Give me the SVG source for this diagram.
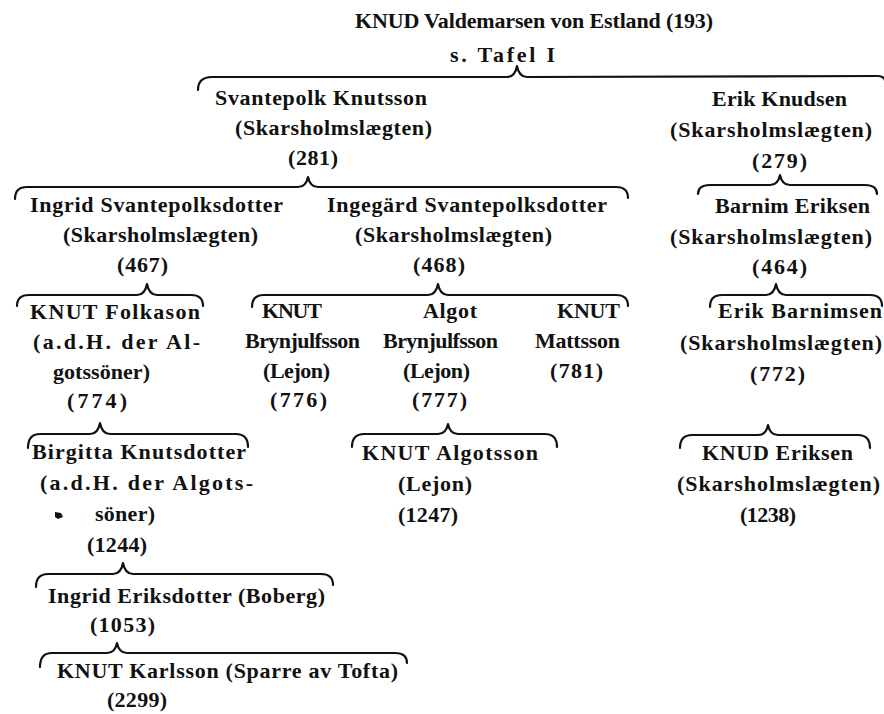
<svg xmlns="http://www.w3.org/2000/svg" width="884" height="714" viewBox="0 0 884 714">
<style>
text{font-family:"Liberation Serif","Times New Roman",serif;font-weight:bold;font-size:22px;fill:#111}
.br{fill:none;stroke:#111;stroke-width:2.2;stroke-linecap:round;stroke-linejoin:round}
</style>
<rect width="884" height="714" fill="#fff"/>
<g id="connectors">
<path class="br" d="M198,90 Q198,77 212,77 L507,77 Q515,77 517,66 Q519,77 527,77 L878,76 Q886,76 886,86"/>
<path class="br" d="M15,199 Q15,187 27,187 L298,187 Q306,187 308,177 Q310,187 318,187 L616,187 Q628,187 628,198"/>
<path class="br" d="M698,194 Q698,185 710,185 L770,185 Q778,185 780,175 Q782,185 790,185 L865,185 Q877,185 877,194"/>
<path class="br" d="M17,306 Q17,295 29,295 L137,295 Q145,295 147,284 Q149,295 157,295 L191,295 Q203,295 203,306"/>
<path class="br" d="M252,307 Q252,295 264,295 L428,295 Q436,295 438,284 Q440,295 448,295 L616,295 Q628,295 628,306"/>
<path class="br" d="M710,307 Q710,295 722,295 L766,295 Q774,295 776,284 Q778,295 786,295 L870,295 Q882,295 882,306"/>
<path class="br" d="M28,448 Q28,434 40,434 L90,434 Q98,434 100,423 Q102,434 110,434 L236,434 Q248,434 248,447"/>
<path class="br" d="M352,447 Q352,434 364,434 L438,434 Q446,434 448,424 Q450,434 458,434 L545,434 Q557,434 557,447"/>
<path class="br" d="M680,448 Q680,435 692,435 L758,435 Q766,435 768,425 Q770,435 778,435 L858,435 Q870,435 870,448"/>
<path class="br" d="M36,587 Q36,574 48,574 L113,574 Q121,574 123,563 Q125,574 133,574 L321,574 Q333,574 333,585"/>
<path class="br" d="M40,667 Q40,653 52,653 L107,653 Q115,653 117,643 Q119,653 127,653 L395,653 Q407,653 407,663"/>
</g>
<g id="knud-valdemarsen">
<text x="355" y="28" textLength="358">KNUD Valdemarsen von Estland (193)</text>
<text x="450" y="62" textLength="105">s. Tafel I</text>
</g>
<g id="svantepolk">
<text x="215" y="105" textLength="212">Svantepolk Knutsson</text>
<text x="235" y="135" textLength="197">(Skarsholmslægten)</text>
<text x="288" y="165" textLength="50">(281)</text>
</g>
<g id="erik-knudsen">
<text x="712" y="106" textLength="135">Erik Knudsen</text>
<text x="670" y="137" textLength="202">(Skarsholmslægten)</text>
<text x="752" y="168" textLength="55">(279)</text>
</g>
<g id="ingrid-svantepolksdotter">
<text x="30" y="212" textLength="253">Ingrid Svantepolksdotter</text>
<text x="63" y="242" textLength="195">(Skarsholmslægten)</text>
<text x="117" y="272" textLength="51">(467)</text>
</g>
<g id="ingegard-svantepolksdotter">
<text x="327" y="212" textLength="280">Ingegärd Svantepolksdotter</text>
<text x="355" y="242" textLength="197">(Skarsholmslægten)</text>
<text x="413" y="272" textLength="52">(468)</text>
</g>
<g id="barnim-eriksen">
<text x="715" y="213" textLength="155">Barnim Eriksen</text>
<text x="670" y="244" textLength="202">(Skarsholmslægten)</text>
<text x="752" y="274" textLength="55">(464)</text>
</g>
<g id="knut-folkason">
<text x="30" y="319" textLength="170">KNUT Folkason</text>
<text x="33" y="349" textLength="167">(a.d.H. der Al-</text>
<text x="53" y="379" textLength="97">gotssöner)</text>
<text x="67" y="408" textLength="60">(774)</text>
</g>
<g id="knut-brynjulfsson">
<text x="262" y="318" textLength="60">KNUT</text>
<text x="245" y="348" textLength="115">Brynjulfsson</text>
<text x="263" y="378" textLength="67">(Lejon)</text>
<text x="270" y="407" textLength="57">(776)</text>
</g>
<g id="algot-brynjulfsson">
<text x="423" y="318" textLength="54">Algot</text>
<text x="383" y="348" textLength="115">Brynjulfsson</text>
<text x="403" y="378" textLength="67">(Lejon)</text>
<text x="412" y="407" textLength="55">(777)</text>
</g>
<g id="knut-mattsson">
<text x="557" y="318" textLength="63">KNUT</text>
<text x="535" y="348" textLength="85">Mattsson</text>
<text x="550" y="378" textLength="53">(781)</text>
</g>
<g id="erik-barnimsen">
<text x="718" y="318" textLength="164">Erik Barnimsen</text>
<text x="680" y="350" textLength="202">(Skarsholmslægten)</text>
<text x="750" y="381" textLength="55">(772)</text>
</g>
<g id="birgitta-knutsdotter">
<text x="32" y="459" textLength="214">Birgitta Knutsdotter</text>
<text x="40" y="490" textLength="213">(a.d.H. der Algots-</text>
<text x="95" y="521" textLength="60">söner)</text>
<text x="87" y="552" textLength="60">(1244)</text>
<path d="M55,512 L61,513 L63,517 L58,519 L55,517 Z" fill="#111"/>
</g>
<g id="knut-algotsson">
<text x="362" y="460" textLength="176">KNUT Algotsson</text>
<text x="398" y="491" textLength="74">(Lejon)</text>
<text x="398" y="522" textLength="60">(1247)</text>
</g>
<g id="knud-eriksen">
<text x="702" y="460" textLength="151">KNUD Eriksen</text>
<text x="677" y="491" textLength="203">(Skarsholmslægten)</text>
<text x="740" y="522" textLength="56">(1238)</text>
</g>
<g id="ingrid-eriksdotter">
<text x="48" y="603" textLength="277">Ingrid Eriksdotter (Boberg)</text>
<text x="90" y="632" textLength="65">(1053)</text>
</g>
<g id="knut-karlsson">
<text x="57" y="678" textLength="341">KNUT Karlsson (Sparre av Tofta)</text>
<text x="107" y="707" textLength="60">(2299)</text>
</g>
</svg>
